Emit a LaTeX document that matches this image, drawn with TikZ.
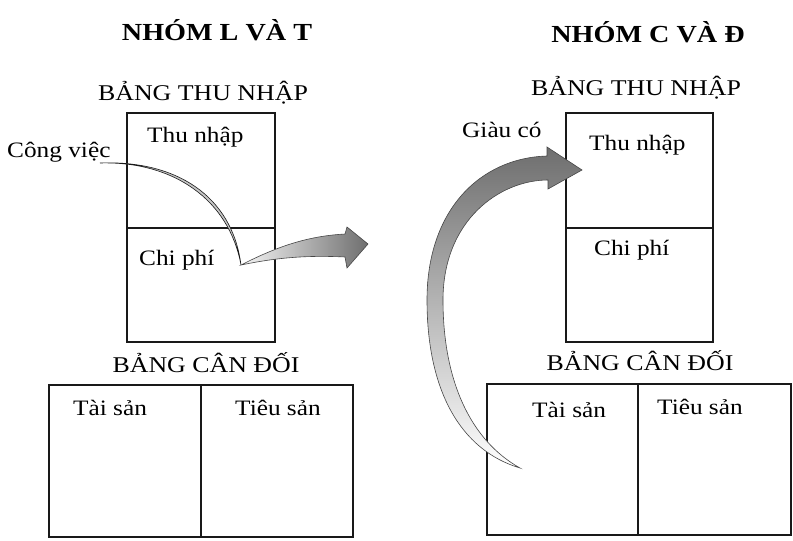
\documentclass[tikz,border=0pt]{standalone}
\usepackage{fontspec}
\setmainfont{Liberation Serif}[FakeStretch=1.15]
\definecolor{inkblack}{RGB}{25, 25, 25}
\definecolor{shadegray}{RGB}{110, 110, 110}
\definecolor{edgegray}{RGB}{70, 70, 70}

\begin{document}
\begin{tikzpicture}[
    x=1pt, y=-1pt,
    group/.style={font=\fontsize{24.5}{28}\selectfont\bfseries, anchor=base, inner sep=0pt},
    heading/.style={font=\fontsize{22.5}{26}\selectfont, anchor=base, inner sep=0pt},
    entry/.style={font=\fontsize{22}{26}\selectfont, anchor=base west, inner sep=0pt},
    sheet/.style={draw=inkblack, line width=1.1pt},
    bigarrow/.style={draw=edgegray, line width=0.6pt},
]
    \useasboundingbox (0,0) rectangle (793,541);

    % Group titles
    \node[group] (grpL) at (217,40) {NHÓM L VÀ T};
    \node[group] (grpR) at (648,42) {NHÓM C VÀ Đ};

    % Income statements
    \node[heading] (incL) at (203,100) {BẢNG THU NHẬP};
    \draw[sheet] (127,113) rectangle (275,342);
    \draw[sheet] (127,228) -- (275,228);
    \node[entry] (revL) at (147,142) {Thu nhập};
    \node[entry] (expL) at (139,265) {Chi phí};

    \node[heading] (incR) at (636,95) {BẢNG THU NHẬP};
    \draw[sheet] (566,113) rectangle (713,342);
    \draw[sheet] (566,228) -- (713,228);
    \node[entry] (revR) at (589,150) {Thu nhập};
    \node[entry] (expR) at (594,255) {Chi phí};

    % Balance sheets
    \node[heading] (balL) at (206,372) {BẢNG CÂN ĐỐI};
    \draw[sheet] (49,385) rectangle (353,537);
    \draw[sheet] (201,385) -- (201,537);
    \node[entry] (assetL) at (73,415) {Tài sản};
    \node[entry] (liabL) at (235,415) {Tiêu sản};

    \node[heading] (balR) at (640,370) {BẢNG CÂN ĐỐI};
    \draw[sheet] (487,384) rectangle (791,535);
    \draw[sheet] (638,384) -- (638,535);
    \node[entry] (assetR) at (532,417) {Tài sản};
    \node[entry] (liabR) at (657,414) {Tiêu sản};

    % Side labels
    \node[entry] (work) at (7,157) {Công việc};
    \node[entry] (rich) at (462,137) {Giàu có};

    % Job income runs straight into expenses
    \coordinate (workin) at (100,163);
    \coordinate (spend) at (241,265);
    \draw[fill=gray!45, draw=inkblack, line width=0.6pt]
        (workin) .. controls (175,160) and (232,195) .. (spend)
        .. controls (229,200) and (174,161) .. (workin) -- cycle;

    % Money flows out of expenses
    \shade[bigarrow, left color=gray!8, right color=shadegray]
        (spend) .. controls (280,245) and (310,236) .. (345,234)
        -- (347,227) -- (368,244) -- (347,268) -- (345,257)
        .. controls (305,255) and (275,258) .. (spend) -- cycle;

    % Assets feed income
    \coordinate (assetout) at (520,468);
    \coordinate (revin) at (582,170);
    \shade[bigarrow, top color=shadegray, bottom color=white]
        (547,156) -- (547,147) -- (revin) -- (548,189) -- (548,180)
        .. controls (500,180) and (443,220) .. (443,300)
        .. controls (443,380) and (470,440) .. (assetout)
        .. controls (460,450) and (427,390) .. (427,300)
        .. controls (427,210) and (480,158) .. (547,156) -- cycle;
\end{tikzpicture}
\end{document}
